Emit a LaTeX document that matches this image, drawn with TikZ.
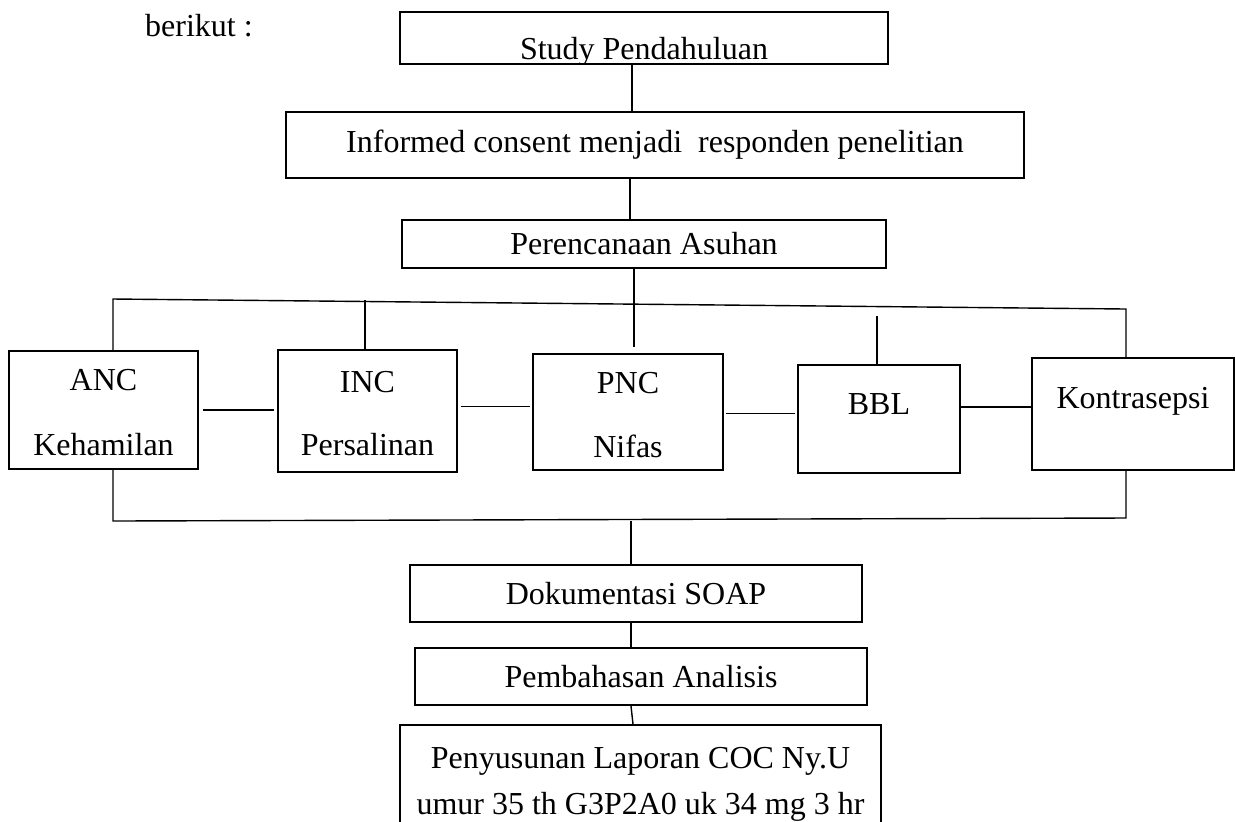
\documentclass[tikz,border=0pt]{standalone}
\usepackage{fontspec}
\setmainfont{Liberation Serif}
\usepackage{tikz}

\begin{document}
\begin{tikzpicture}[x=0.5pt,y=-0.5pt,
  every node/.append style={font=\fontsize{16}{19}\selectfont, text=black},
  box/.style={draw,line width=1pt,inner sep=0pt,align=center},
  link/.style={draw,line width=0.7pt}]
\useasboundingbox (0,0) rectangle (1235,821);
\node (intro) at (199,26) {berikut :};
% alur atas (teks kotak pertama terpotong di tepi bawah)
\node[box,minimum width=244pt,minimum height=26pt,
  path picture={\node[anchor=base] (studytext) at ([yshift=-10.5pt]path picture bounding box.center) {Study Pendahuluan};}] (study) at (644,38) {};
\node[box,minimum width=369pt,minimum height=33pt] (consent) at (655,145) {Informed consent menjadi~ responden penelitian};
\node[box,minimum width=242pt,minimum height=24pt] (plan) at (644,244) {Perencanaan Asuhan};
% lima asuhan
\node[box,minimum width=94.5pt,minimum height=59pt] (anc) at (103.5,410) {\rule{0pt}{13pt}ANC\\[13.5pt]Kehamilan};
\node[box,minimum width=89.2pt,minimum height=61.2pt] (inc) at (367.5,411.2) {\rule{0pt}{12.5pt}INC\\[12.5pt]Persalinan};
\node[box,minimum width=94.7pt,minimum height=57.8pt] (pnc) at (628,412.2) {\rule{0pt}{13.5pt}PNC\\[13pt]Nifas};
\node[box,minimum width=81pt,minimum height=54pt,text depth=15pt] (bbl) at (879,419) {BBL};
\node[box,minimum width=101pt,minimum height=56pt,text depth=16pt] (kontra) at (1133,414) {Kontrasepsi};
% alur bawah
\node[box,minimum width=226pt,minimum height=28.5pt] (soap) at (636,593.5) {Dokumentasi SOAP};
\node[box,minimum width=226pt,minimum height=28.5pt] (bahas) at (641,676.5) {Pembahasan Analisis};
\node[box,minimum width=240.5pt,minimum height=59pt] (susun) at (640.5,784) {Penyusunan Laporan COC Ny.U\\[4pt]umur 35 th G3P2A0 uk 34 mg 3 hr};
% garis cabang
\coordinate (tl) at (113,299);
\coordinate (tr) at (1126,309);
\coordinate (tinc) at (365,300);
\coordinate (tpnc) at (634,347);
\coordinate (tbbl) at (877,316);
\coordinate (bl) at (113,521);
\coordinate (br) at (1126,518);
\path[link] ([xshift=-6pt]study.south) -- ([xshift=-6pt]study.south |- consent.north);
\path[link] ([xshift=-7pt]plan.north) -- ([xshift=-7pt]plan.north |- consent.south);
\path[link] (plan.south -| tpnc) -- (tpnc);
\path[link] (tl |- anc.north) -- (tl) -- (tr) -- (tr |- kontra.north);
\path[link] (tinc) -- (tinc |- inc.north);
\path[link] (tbbl) -- (tbbl |- bbl.north);
\path[link,shorten <=2pt,shorten >=1.5pt] (anc.east) -- (anc.east -| inc.west);
\path[link,shorten <=1.5pt,shorten >=1pt] ([yshift=2.25pt]inc.east) -- ([yshift=2.25pt]inc.east -| pnc.west);
\path[link,shorten <=1pt,shorten >=1pt] ([yshift=-0.5pt]pnc.east) -- ([yshift=-0.5pt]pnc.east -| bbl.west);
\path[link] ([yshift=6pt]bbl.east) -- ([yshift=6pt]bbl.east -| kontra.west);
\path[link] (bl |- anc.south) -- (bl) -- (br) -- (br |- kontra.south);
\path[link] ([xshift=-2.5pt]soap.north) -- ([xshift=-2.5pt]soap.north |- bl);
\path[link] ([xshift=-2.5pt]soap.south) -- ([xshift=-2.5pt]soap.south |- bahas.north);
\path[link] ([xshift=-5pt]bahas.south) -- ([xshift=-3.75pt]susun.north);
\end{tikzpicture}
\end{document}
